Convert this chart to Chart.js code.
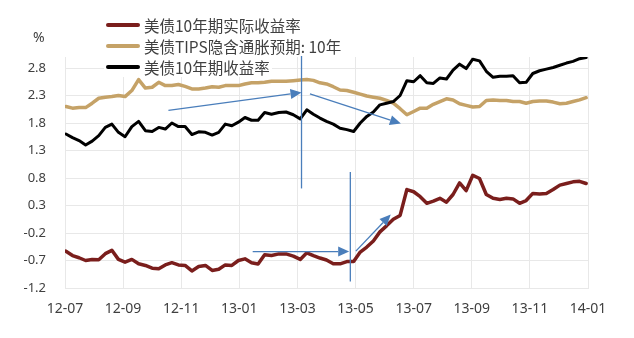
<!DOCTYPE html>
<html>
<head>
<meta charset="utf-8">
<script src="https://cdn.jsdelivr.net/npm/chart.js@4.4.1/dist/chart.umd.min.js"></script>
<style>
  html, body { margin: 0; padding: 0; background: #fff; }
  #wrap { position: relative; width: 634px; height: 338px; }
  #chart { position: absolute; left: 0; top: 0; }
  .unit { position: absolute; left: 33px; top: 27px; font: 14px "Noto Sans", sans-serif; color: #404040; }
  .leg { position: absolute; left: 104px; height: 20px; display: flex; align-items: center; background: #fff;
         padding-right: 2px; font: 15.5px "Noto Sans CJK SC", sans-serif; color: #404040; white-space: nowrap; }
  .leg i { display: inline-block; width: 34px; height: 4px; border-radius: 2px; margin: 0 4px 0 2px; }
</style>
</head>
<body>
<div id="wrap">
  <canvas id="chart" width="634" height="338"></canvas>
  <div class="unit">%</div>
  <div class="leg" style="top:15px"><i style="background:#7a1e1c"></i>美债10年期实际收益率</div>
  <div class="leg" style="top:36px"><i style="background:#c5a267"></i>美债TIPS隐含通胀预期: 10年</div>
  <div class="leg" style="top:57px"><i style="background:#000"></i>美债10年期收益率</div>
</div>
<script>
// weekly observations, Jul 2012 - Dec 2013
var dates = [
  '2012-07-02','2012-07-09','2012-07-16','2012-07-23','2012-07-30',
  '2012-08-06','2012-08-13','2012-08-20','2012-08-27',
  '2012-09-03','2012-09-10','2012-09-17','2012-09-24',
  '2012-10-01','2012-10-08','2012-10-15','2012-10-22','2012-10-29',
  '2012-11-05','2012-11-12','2012-11-19','2012-11-26',
  '2012-12-03','2012-12-10','2012-12-17','2012-12-24','2012-12-31',
  '2013-01-07','2013-01-14','2013-01-21','2013-01-28',
  '2013-02-04','2013-02-11','2013-02-18','2013-02-25',
  '2013-03-04','2013-03-11','2013-03-18','2013-03-25',
  '2013-04-01','2013-04-08','2013-04-15','2013-04-22','2013-04-29',
  '2013-05-06','2013-05-13','2013-05-20','2013-05-27',
  '2013-06-03','2013-06-10','2013-06-17','2013-06-24',
  '2013-07-01','2013-07-08','2013-07-15','2013-07-22','2013-07-29',
  '2013-08-05','2013-08-12','2013-08-19','2013-08-26',
  '2013-09-02','2013-09-09','2013-09-16','2013-09-23','2013-09-30',
  '2013-10-07','2013-10-14','2013-10-21','2013-10-28',
  '2013-11-04','2013-11-11','2013-11-18','2013-11-25',
  '2013-12-02','2013-12-09','2013-12-16','2013-12-23','2013-12-30'
];

var realYield = [
  -0.53, -0.61, -0.65, -0.70, -0.68, -0.685, -0.576, -0.515, -0.68, -0.73,
  -0.68, -0.76, -0.79, -0.84, -0.85, -0.78, -0.74, -0.78, -0.79, -0.89,
  -0.81, -0.79, -0.88, -0.86, -0.78, -0.79, -0.70, -0.67, -0.74, -0.765,
  -0.595, -0.61, -0.58, -0.58, -0.62, -0.68, -0.56, -0.61, -0.655, -0.69,
  -0.76, -0.76, -0.72, -0.72, -0.546, -0.455, -0.345, -0.18, -0.07, 0.05,
  0.12, 0.59, 0.55, 0.46, 0.34, 0.38, 0.43, 0.36, 0.50, 0.71,
  0.57, 0.85, 0.79, 0.50, 0.43, 0.41, 0.43, 0.42, 0.34, 0.39,
  0.52, 0.51, 0.52, 0.59, 0.67, 0.70, 0.73, 0.74, 0.70
];

var breakeven = [
  2.10, 2.07, 2.08, 2.08, 2.16, 2.25, 2.27, 2.28, 2.30, 2.28,
  2.39, 2.59, 2.435, 2.45, 2.54, 2.48, 2.48, 2.50, 2.465, 2.42,
  2.42, 2.435, 2.46, 2.45, 2.48, 2.48, 2.48, 2.51, 2.53, 2.53,
  2.54, 2.56, 2.56, 2.56, 2.57, 2.58, 2.59, 2.575, 2.53, 2.51,
  2.46, 2.40, 2.39, 2.36, 2.325, 2.29, 2.27, 2.25, 2.21, 2.16,
  2.06, 1.95, 2.01, 2.07, 2.07, 2.14, 2.19, 2.24, 2.22, 2.15,
  2.12, 2.09, 2.10, 2.21, 2.22, 2.21, 2.21, 2.19, 2.19, 2.16,
  2.19, 2.20, 2.20, 2.18, 2.15, 2.16, 2.19, 2.22, 2.26
];

var nominal = [
  1.60, 1.535, 1.48, 1.40, 1.47, 1.57, 1.72, 1.78, 1.63, 1.55,
  1.735, 1.83, 1.66, 1.645, 1.72, 1.69, 1.80, 1.735, 1.735, 1.59,
  1.64, 1.63, 1.58, 1.63, 1.78, 1.75, 1.815, 1.90, 1.85, 1.85,
  1.99, 1.96, 1.99, 2.00, 1.95, 1.875, 2.04, 1.96, 1.89, 1.83,
  1.78, 1.705, 1.68, 1.645, 1.80, 1.92, 2.00, 2.13, 2.16, 2.19,
  2.30, 2.57, 2.55, 2.66, 2.53, 2.52, 2.62, 2.60, 2.76, 2.87,
  2.79, 2.96, 2.93, 2.74, 2.63, 2.65, 2.65, 2.66, 2.53, 2.54,
  2.70, 2.75, 2.78, 2.81, 2.85, 2.89, 2.92, 2.97, 2.99
];

var yTicks = [-1.2, -0.7, -0.2, 0.3, 0.8, 1.3, 1.8, 2.3, 2.8];
var xTickLabels = ['12-07', '12-09', '12-11', '13-01', '13-03', '13-05', '13-07', '13-09', '13-11', '14-01'];

// blue guide lines, in chart units (months since 2012-07, percent)
var guides = [
  { from: [3.56, 2.03], to: [8.14, 2.355], head: true },
  { from: [8.43, 2.33], to: [11.56, 1.79], head: true },
  { from: [8.14, 3.04], to: [8.14, 0.61], head: false },
  { from: [9.82, 0.91], to: [9.82, -1.08], head: false },
  { from: [6.46, -0.537], to: [9.78, -0.537], head: true },
  { from: [10.01, -0.53], to: [11.21, 0.136], head: true }
];

function toMonths(s) {
  var p = s.split('-');
  var y = +p[0], m = +p[1], d = +p[2];
  var dim = new Date(y, m, 0).getDate();
  return (y - 2012) * 12 + (m - 7) + (d - 1) / dim;
}

function series(values) {
  return dates.map(function(d, i) { return { x: toMonths(d), y: values[i] }; });
}

var guidePlugin = {
  id: 'guides',
  afterDatasetsDraw: function(chart) {
    var ctx = chart.ctx, xs = chart.scales.x, ys = chart.scales.y;
    ctx.save();
    ctx.strokeStyle = '#4a7ebb';
    ctx.fillStyle = '#4a7ebb';
    ctx.lineWidth = 1.3;
    guides.forEach(function(g) {
      var x1 = xs.getPixelForValue(g.from[0]), y1 = ys.getPixelForValue(g.from[1]);
      var x2 = xs.getPixelForValue(g.to[0]), y2 = ys.getPixelForValue(g.to[1]);
      var a = Math.atan2(y2 - y1, x2 - x1);
      var len = g.head ? 11 : 0, half = 5;
      ctx.beginPath();
      ctx.moveTo(x1, y1);
      ctx.lineTo(x2 - Math.cos(a) * len, y2 - Math.sin(a) * len);
      ctx.stroke();
      if (g.head) {
        var bx = x2 - Math.cos(a) * len, by = y2 - Math.sin(a) * len;
        ctx.beginPath();
        ctx.moveTo(x2, y2);
        ctx.lineTo(bx + Math.sin(a) * half, by - Math.cos(a) * half);
        ctx.lineTo(bx - Math.sin(a) * half, by + Math.cos(a) * half);
        ctx.closePath();
        ctx.fill();
      }
    });
    ctx.restore();
  }
};

var gridColor = '#e8e8e8';
var tickColor = '#404040';

new Chart(document.getElementById('chart'), {
  type: 'line',
  data: {
    datasets: [
      { label: '美债10年期实际收益率', data: series(realYield), borderColor: '#7a1e1c', borderWidth: 3.5, order: 3 },
      { label: '美债TIPS隐含通胀预期: 10年', data: series(breakeven), borderColor: '#c5a267', borderWidth: 3.5, order: 2 },
      { label: '美债10年期收益率', data: series(nominal), borderColor: '#000000', borderWidth: 3, order: 1 }
    ]
  },
  options: {
    responsive: false,
    animation: false,
    events: [],
    layout: { padding: { left: 0, top: 57, right: 46, bottom: 0 } },
    elements: {
      point: { radius: 0 },
      line: { tension: 0, borderJoinStyle: 'round', borderCapStyle: 'round' }
    },
    plugins: { legend: { display: false }, tooltip: { enabled: false } },
    scales: {
      x: {
        type: 'linear', min: 0, max: 18,
        afterBuildTicks: function(s) { s.ticks = xTickLabels.map(function(l, i) { return { value: i * 2 }; }); },
        afterFit: function(s) { s.height = 50; },
        grid: { color: gridColor, drawTicks: false },
        border: { color: gridColor },
        ticks: {
          autoSkip: false, maxRotation: 0, padding: 13, color: tickColor,
          font: { family: 'Noto Sans', size: 14 },
          callback: function(v, i) { return xTickLabels[i]; }
        }
      },
      y: {
        min: -1.2, max: 3.0,
        afterBuildTicks: function(s) { s.ticks = yTicks.map(function(v) { return { value: v }; }); },
        afterFit: function(s) { s.width = 65; },
        grid: { color: gridColor, drawTicks: false },
        border: { color: gridColor },
        ticks: {
          padding: 19, color: tickColor,
          font: { family: 'Noto Sans', size: 13 },
          callback: function(v) { return v.toFixed(1); }
        }
      }
    }
  },
  plugins: [guidePlugin]
});
</script>
</body>
</html>
